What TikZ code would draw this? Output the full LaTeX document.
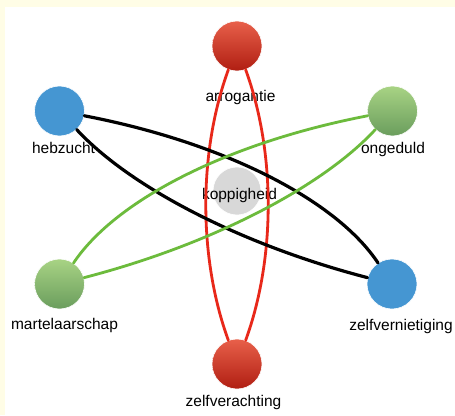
\documentclass[tikz,border=0pt]{standalone}
\usepackage{fontspec}
\setmainfont{Liberation Sans}
\definecolor{bgyellow}{HTML}{FFFDE6}
\definecolor{redtop}{HTML}{E8604A}
\definecolor{redbot}{HTML}{B01E12}
\definecolor{bluec}{HTML}{4596D2}
\definecolor{greentop}{HTML}{A8D384}
\definecolor{greenbot}{HTML}{6A9D5D}
\definecolor{grayc}{HTML}{D8D8D8}
\definecolor{redline}{HTML}{E8281A}
\definecolor{greenline}{HTML}{6CBB3C}
\tikzset{
  dot/.style={circle, minimum size=50pt, inner sep=0pt, draw=white, line width=0.6pt},
  reddot/.style={dot, top color=redtop, bottom color=redbot},
  bluedot/.style={dot, fill=bluec},
  greendot/.style={dot, top color=greentop, bottom color=greenbot},
  graydot/.style={dot, fill=grayc, minimum size=48pt},
  lbl/.style={anchor=base, inner sep=0pt, font=\fontsize{15.5}{18}\selectfont, text=black},
  edgebase/.style={line width=3.2pt, line cap=round},
  rededge/.style={edgebase, draw=redline, line width=2.8pt},
  blackedge/.style={edgebase, draw=black},
  greenedge/.style={edgebase, draw=greenline, line width=2.8pt}
}
\begin{document}
\begin{tikzpicture}[x=1pt,y=-1pt]
\useasboundingbox (0,0) rectangle (455,415);
\fill[bgyellow] (0,0) rectangle (455,415);
\fill[white] (5,7) rectangle (455,415);
% nodes
\node[reddot] (arr) at (237,46) {};
\node[bluedot] (heb) at (59.5,111) {};
\node[greendot] (ong) at (392.5,111) {};
\node[graydot] (kop) at (237,191) {};
\node[greendot] (mar) at (59.5,284) {};
\node[bluedot] (zvn) at (392,284) {};
\node[reddot] (zva) at (237,364) {};
% labels
\node[lbl] (larr) at (240.5,101) {arrogantie};
\node[lbl] (lheb) at (63.5,153) {hebzucht};
\node[lbl] (long) at (393,153) {ongeduld};
\node[lbl] (lkop) at (239.5,199) {koppigheid};
\node[lbl] (lmar) at (64.5,329) {martelaarschap};
\node[lbl] (lzvn) at (401,330) {zelfvernietiging};
\node[lbl] (lzva) at (233.5,406) {zelfverachting};
% edges
\draw[rededge] (arr) .. controls (198.3,152) and (198.3,258) .. (zva);
\draw[rededge] (arr) .. controls (275.7,152) and (275.7,258) .. (zva);
\draw[blackedge] (heb) .. controls (225.8,143) and (336.7,200.7) .. (zvn);
\draw[blackedge] (heb) .. controls (129.8,187) and (240.7,244.7) .. (zvn);
\draw[greenedge] (ong) .. controls (226.2,143) and (115.1,200.7) .. (mar);
\draw[greenedge] (ong) .. controls (322.2,187) and (211.2,244.7) .. (mar);
\end{tikzpicture}
\end{document}
